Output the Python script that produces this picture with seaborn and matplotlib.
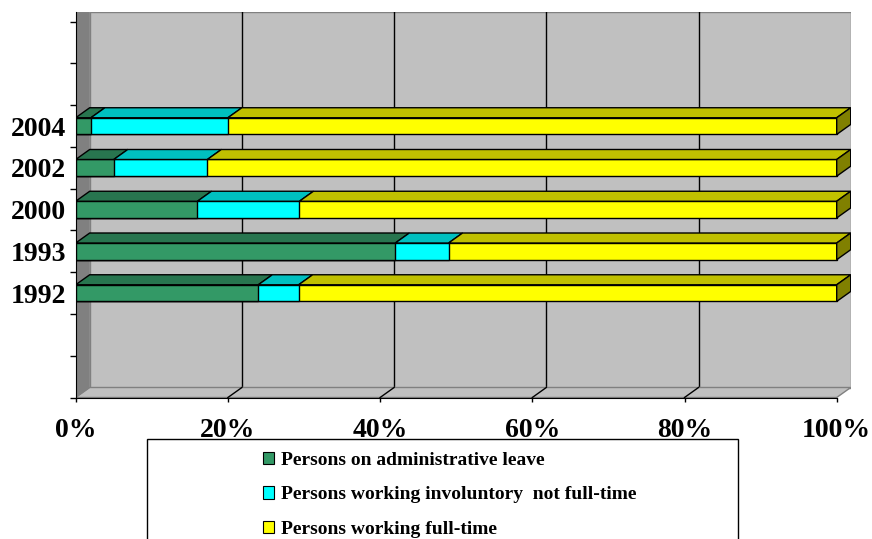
import matplotlib
matplotlib.use("Agg")
import matplotlib.pyplot as plt
from matplotlib.patches import Polygon, Rectangle, Patch
import pandas as pd
import seaborn as sns

# data (percent of persons)
years = ['2004', '2002', '2000', '1993', '1992']
admin_leave = [2, 5, 16, 42, 24]
involuntary = [18, 12.3, 13.4, 7, 5.3]
full_time = [80, 82.7, 70.6, 51, 70.7]
series_names = ['Persons on administrative leave',
                'Persons working involuntory  not full-time',
                'Persons working full-time']
front_colors = ['#339966', '#00FFFF', '#FFFF00']
top_colors = ['#28754F', '#00C0C0', '#C0C000']
side_color = '#808000'
x_ticks = [0, 20, 40, 60, 80, 100]

# build stacked segments (left edge + right edge for every series)
rows = []
for i, y in enumerate(years):
    left = 0
    for name, vals in zip(series_names, [admin_leave, involuntary, full_time]):
        rows.append({'year': y, 'series': name, 'left': left, 'end': left + vals[i]})
        left += vals[i]
df = pd.DataFrame(rows)

# layout of the fake 3d box, in pixels of the 872x539 picture
W, H = 872, 539
X0, X100 = 75.7, 836.7
Y_FRONT_TOP, Y_FLOOR = 21.7, 397.5
DX_PX, DY_PX = 14, 10
px_pct = (X100 - X0) / 100
px_slot = (Y_FLOOR - Y_FRONT_TOP) / 9
DX = DX_PX / px_pct
DY = DY_PX / px_slot

fig = plt.figure(figsize=(W / 100, H / 100), dpi=100)
ax = fig.add_axes([X0 / W, 1 - Y_FLOOR / H,
                   (X100 + DX_PX - X0) / W, (Y_FLOOR - Y_FRONT_TOP + DY_PX) / H])

# stacked bars: draw the cumulative ends, widest first
for name, col in reversed(list(zip(series_names, front_colors))):
    sns.barplot(data=df[df.series == name], x='end', y='year', order=years,
                orient='h', color=col, saturation=1, width=0.4, errorbar=None,
                edgecolor='black', linewidth=1, zorder=3, ax=ax)

top, bot = -2.5, 6.5
ax.set_xlim(0, 100 + DX)
ax.set_ylim(bot, top - DY)

# walls and floor
ax.add_patch(Rectangle((DX, top - DY), 100, bot - top, facecolor='#C0C0C0',
                       edgecolor='#808080', lw=1, zorder=0.5))
ax.add_patch(Polygon([(0, bot), (100, bot), (100 + DX, bot - DY), (DX, bot - DY)],
                     facecolor='#C0C0C0', edgecolor='#808080', lw=1, zorder=0.7))
ax.add_patch(Polygon([(0, top - DY), (DX, top - DY), (DX, bot - DY), (0, bot)],
                     facecolor='#808080', edgecolor='#808080', lw=0.5, zorder=0.8))
for v in x_ticks[1:-1]:
    ax.plot([v + DX, v + DX], [top - DY, bot - DY], color='black', lw=1, zorder=0.6)
    ax.plot([v, v + DX], [bot, bot - DY], color='black', lw=1, zorder=0.9)

# top and side faces of the bars
bar_h = 0.4
for _, r in df.iterrows():
    yi = years.index(r['year'])
    yt = yi - bar_h / 2
    yb = yi + bar_h / 2
    k = series_names.index(r['series'])
    ax.add_patch(Polygon([(r['left'], yt), (r['end'], yt), (r['end'] + DX, yt - DY),
                          (r['left'] + DX, yt - DY)], facecolor=top_colors[k],
                         edgecolor='black', lw=1, zorder=3.5))
    if k == 2:
        ax.add_patch(Polygon([(r['end'], yt), (r['end'] + DX, yt - DY),
                              (r['end'] + DX, yb - DY), (r['end'], yb)],
                             facecolor=side_color, edgecolor='black', lw=1, zorder=3.5))

# axes styling
font = dict(family='Liberation Serif', weight='bold')
for s in ['top', 'right']:
    ax.spines[s].set_visible(False)
ax.spines['left'].set_color('black')
ax.spines['bottom'].set_bounds(0, 100)
ax.set_xlabel('')
ax.set_ylabel('')
ax.set_xticks(x_ticks)
ax.set_xticklabels([f'{v}%' for v in x_ticks], fontdict=dict(size=20, **font))
ax.tick_params(axis='x', length=3, width=1, pad=12)
ax.set_yticks(range(len(years)))
ax.set_yticklabels(years, fontdict=dict(size=20, **font))
ax.tick_params(axis='y', which='major', length=0, pad=7)
ax.set_yticks([top + i for i in range(10)], minor=True)
ax.tick_params(axis='y', which='minor', length=4.5, width=1)

# legend box runs off the bottom of the picture
fig.patches.append(Rectangle((146.7 / W, -0.1), (738 - 146.7) / W, 0.1 + (H - 439) / H,
                             transform=fig.transFigure, facecolor='white',
                             edgecolor='black', lw=1, zorder=0))
handles = [Patch(facecolor=c, edgecolor='black', lw=0.8) for c in front_colors]
fig.legend(handles, series_names, loc='upper left',
           bbox_to_anchor=(253 / W, 1 - 442 / H), frameon=False,
           prop=dict(size=14, **font), handlelength=0.6, handleheight=0.6,
           handletextpad=0.35, labelspacing=0.9, borderpad=0)

fig.savefig('out.png', dpi=100)
